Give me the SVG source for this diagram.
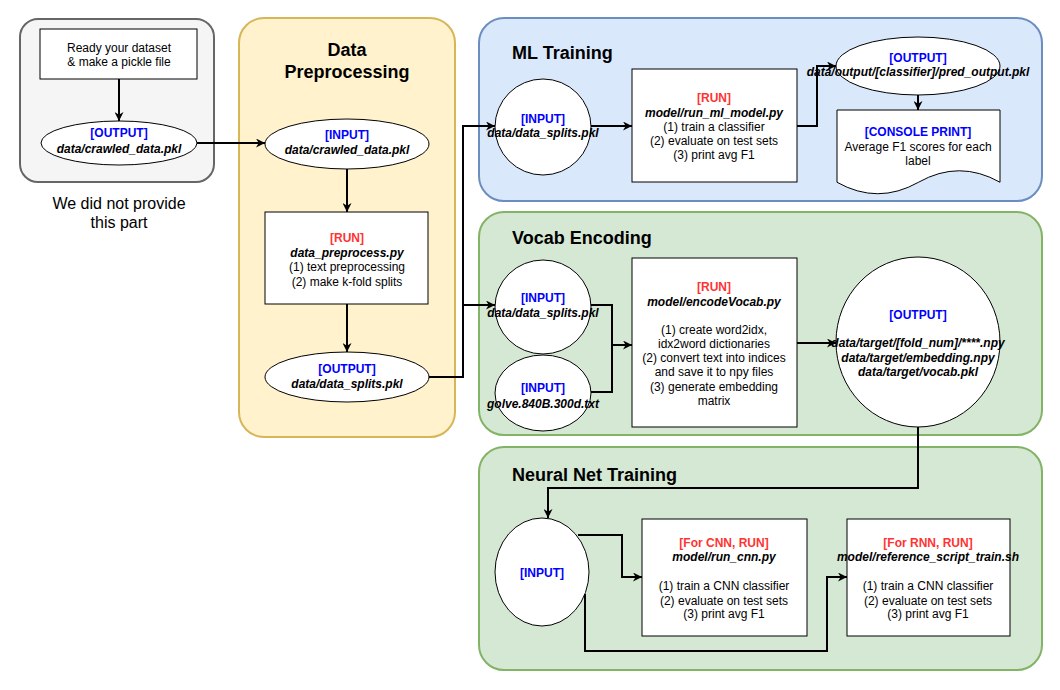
<svg xmlns="http://www.w3.org/2000/svg" width="1060" height="690" viewBox="0 0 1060 690">
<style>
text{font-family:"Liberation Sans",Arial,sans-serif;font-size:12px;fill:#000;text-anchor:middle}
.t{font-size:18px;font-weight:bold}
.tl{font-size:18px;font-weight:bold;text-anchor:start}
.b{fill:#0000FF;font-weight:bold}
.r{fill:#FF3333;font-weight:bold}
.p{font-weight:bold;font-style:italic}
.big{font-size:16px}
.node{fill:#fff;stroke:#000;stroke-width:1}
.edge{fill:none;stroke:#000;stroke-width:2}
</style>
<defs>
<marker id="arr" viewBox="0 0 10 10" refX="10" refY="5" markerWidth="10" markerHeight="9" markerUnits="userSpaceOnUse" orient="auto">
<path d="M0,0 L10,5 L0,10 L3,5 Z" fill="#000"/>
</marker>
</defs>
<g id="containers">
<rect x="20" y="19" width="194" height="163" rx="18" fill="#f5f5f5" stroke="#666666" stroke-width="2"/>
<rect x="239" y="18" width="216" height="419" rx="25" fill="#fff2cc" stroke="#d6b656" stroke-width="2"/>
<rect x="479" y="18" width="563" height="183" rx="25" fill="#dae8fc" stroke="#6c8ebf" stroke-width="2"/>
<rect x="479" y="212" width="563" height="223" rx="25" fill="#d5e8d4" stroke="#82b366" stroke-width="2"/>
<rect x="479" y="447" width="563" height="223" rx="25" fill="#d5e8d4" stroke="#82b366" stroke-width="2"/>
</g>
<g id="titles">
<text class="big" x="119" y="209">We did not provide</text>
<text class="big" x="119" y="228">this part</text>
<text class="t" x="347" y="56">Data</text>
<text class="t" x="347" y="78">Preprocessing</text>
<text class="tl" x="512" y="59">ML Training</text>
<text class="tl" x="512" y="244">Vocab Encoding</text>
<text class="tl" x="512" y="481">Neural Net Training</text>
</g>
<g id="ready">
<rect class="node" x="40" y="29" width="157" height="50"/>
<text x="119" y="52">Ready your dataset</text>
<text x="119" y="66">&amp; make a pickle file</text>
</g>
<g id="crawled-output">
<ellipse class="node" cx="119" cy="143" rx="78" ry="22"/>
<text class="b" x="119" y="137">[OUTPUT]</text>
<text class="p" x="119" y="153">data/crawled_data.pkl</text>
</g>
<g id="pre-input">
<ellipse class="node" cx="347" cy="144" rx="82" ry="25"/>
<text class="b" x="347" y="139">[INPUT]</text>
<text class="p" x="347" y="154">data/crawled_data.pkl</text>
</g>
<g id="pre-run">
<rect class="node" x="265" y="212" width="163" height="92"/>
<text class="r" x="347" y="242">[RUN]</text>
<text class="p" x="347" y="257">data_preprocess.py</text>
<text x="347" y="271">(1) text preprocessing</text>
<text x="347" y="286"> (2) make k-fold splits</text>
</g>
<g id="pre-output">
<ellipse class="node" cx="347" cy="377" rx="82" ry="25"/>
<text class="b" x="347" y="373">[OUTPUT]</text>
<text class="p" x="347" y="388">data/data_splits.pkl</text>
</g>
<g id="ml-input">
<ellipse class="node" cx="543" cy="127" rx="48" ry="48"/>
<text class="b" x="543" y="123">[INPUT]</text>
<text class="p" x="543" y="137">data/data_splits.pkl</text>
</g>
<g id="ml-run">
<rect class="node" x="632" y="69" width="165" height="113"/>
<text class="r" x="714" y="102">[RUN]</text>
<text class="p" x="714" y="117">model/run_ml_model.py</text>
<text x="714" y="131">(1) train a classifier</text>
<text x="714" y="145">(2) evaluate on test sets</text>
<text x="714" y="159">(3) print avg F1</text>
</g>
<g id="ml-output">
<ellipse class="node" cx="918" cy="66" rx="82" ry="29"/>
<text class="b" x="918" y="62">[OUTPUT]</text>
<text class="p" x="918" y="76">data/output/[classifier]/pred_output.pkl</text>
</g>
<g id="ml-console">
<path class="node" d="M837,110 H1000 V182.25 Q959.25,159.3 918.5,182.25 Q877.75,205.2 837,182.25 Z"/>
<text class="b" x="918" y="136">[CONSOLE PRINT]</text>
<text x="918" y="151">Average F1 scores for each</text>
<text x="918" y="165">label</text>
</g>
<g id="ve-input1">
<ellipse class="node" cx="543" cy="307" rx="48" ry="47"/>
<text class="b" x="543" y="302">[INPUT]</text>
<text class="p" x="543" y="317">data/data_splits.pkl</text>
</g>
<g id="ve-input2">
<ellipse class="node" cx="543" cy="393" rx="48" ry="38"/>
<text class="b" x="543" y="392">[INPUT]</text>
<text class="p" x="543" y="408">golve.840B.300d.txt</text>
</g>
<g id="ve-run">
<rect class="node" x="632" y="258" width="165" height="169"/>
<text class="r" x="714" y="291">[RUN]</text>
<text class="p" x="714" y="306">model/encodeVocab.py</text>
<text x="714" y="334">(1) create word2idx,</text>
<text x="714" y="348">idx2word dictionaries</text>
<text x="714" y="362">(2) convert text into indices</text>
<text x="714" y="376">and save it to npy files</text>
<text x="714" y="391">(3) generate embedding</text>
<text x="714" y="405">matrix</text>
</g>
<g id="ve-output">
<ellipse class="node" cx="918" cy="342" rx="82" ry="85"/>
<text class="b" x="918" y="319">[OUTPUT]</text>
<text class="p" x="918" y="347">data/target/[fold_num]/****.npy</text>
<text class="p" x="918" y="362">data/target/embedding.npy</text>
<text class="p" x="918" y="376">data/target/vocab.pkl</text>
</g>
<g id="nn-input">
<ellipse class="node" cx="542" cy="572" rx="47" ry="54"/>
<text class="b" x="542" y="577">[INPUT]</text>
</g>
<g id="nn-cnn">
<rect class="node" x="642" y="519" width="165" height="117"/>
<text class="r" x="724" y="547">[For CNN, RUN]</text>
<text class="p" x="724" y="561">model/run_cnn.py</text>
<text x="724" y="590">(1) train a CNN classifier</text>
<text x="724" y="605">(2) evaluate on test sets</text>
<text x="724" y="618">(3) print avg F1</text>
</g>
<g id="nn-rnn">
<rect class="node" x="847" y="519" width="163" height="117"/>
<text class="r" x="928" y="547">[For RNN, RUN]</text>
<text class="p" x="928" y="561">model/reference_script_train.sh</text>
<text x="928" y="590">(1) train a CNN classifier</text>
<text x="928" y="605">(2) evaluate on test sets</text>
<text x="928" y="618">(3) print avg F1</text>
</g>
<g id="connectors">
<path class="edge" d="M119,79 V121" marker-end="url(#arr)"/>
<path class="edge" d="M197,143 H265" marker-end="url(#arr)"/>
<path class="edge" d="M347,169 V212" marker-end="url(#arr)"/>
<path class="edge" d="M347,304 V352" marker-end="url(#arr)"/>
<path class="edge" d="M429,377 H463 V126 H495" marker-end="url(#arr)"/>
<path class="edge" d="M463,305 H495" marker-end="url(#arr)"/>
<path class="edge" d="M591,126 H632" marker-end="url(#arr)"/>
<path class="edge" d="M797,126 H817 V66 H836" marker-end="url(#arr)"/>
<path class="edge" d="M918,95 V110" marker-end="url(#arr)"/>
<path class="edge" d="M591,305 H612 V345 H632" marker-end="url(#arr)"/>
<path class="edge" d="M591,392 H612 V345"/>
<path class="edge" d="M797,343 H836" marker-end="url(#arr)"/>
<path class="edge" d="M918,427 V488 H548 V518" marker-end="url(#arr)"/>
<path class="edge" d="M578,535 H622 V577 H642" marker-end="url(#arr)"/>
<path class="edge" d="M585,594 V651 H827 V577 H847" marker-end="url(#arr)"/>
</g>
</svg>
